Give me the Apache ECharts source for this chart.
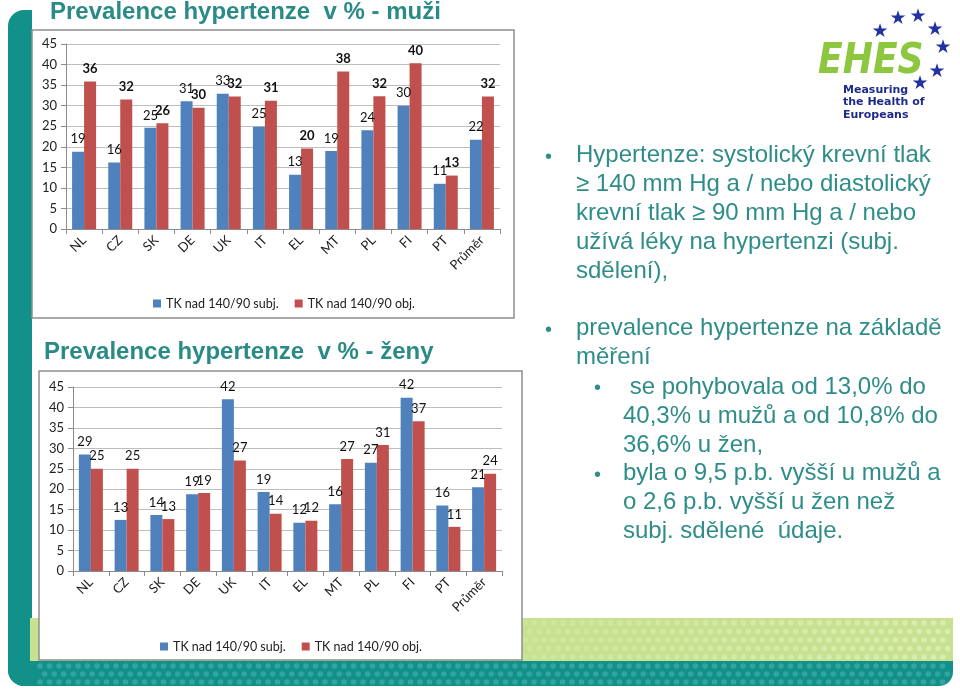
<!DOCTYPE html>
<html>
<head>
<meta charset="utf-8">
<script src="https://cdn.jsdelivr.net/npm/echarts@6/dist/echarts.min.js"></script>
<style>
  html, body { margin: 0; padding: 0; background: #fff; }
  #main { width: 960px; height: 693px; }
</style>
</head>
<body>
<div id="main"></div>
<script>
// categories and values
const categories = ['NL', 'CZ', 'SK', 'DE', 'UK', 'IT', 'EL', 'MT', 'PL', 'FI', 'PT', 'Průměr'];
const menSubj = [18.8, 16.2, 24.6, 31.1, 32.9, 24.9, 13.2, 19.0, 24.0, 30.0, 11.0, 21.7];
const menObj = [35.9, 31.5, 25.7, 29.5, 32.2, 31.2, 19.6, 38.3, 32.3, 40.3, 13.0, 32.2];
const womenSubj = [28.5, 12.5, 13.7, 18.8, 42.0, 19.3, 11.8, 16.3, 26.5, 42.4, 16.0, 20.5];
const womenObj = [25.0, 25.0, 12.7, 19.1, 27.0, 14.0, 12.3, 27.4, 30.8, 36.6, 10.8, 23.8];
const seriesNames = ['TK nad 140/90 subj.', 'TK nad 140/90 obj.'];
const yMax = 45;
const yStep = 5;

const teal = '#12908A';
const textTeal = '#2F8D89';
const blue = '#4F81BD';
const red = '#C0504D';
const labelFont = 'Lato, "Open Sans", sans-serif';

const bulletText1 = [
  'Hypertenze: systolický krevní tlak',
  '≥ 140 mm Hg a / nebo diastolický',
  'krevní tlak ≥ 90 mm Hg a / nebo',
  'užívá léky na hypertenzi (subj.',
  'sdělení),'
];
const bulletText2 = ['prevalence hypertenze na základě', 'měření'];
const subText1 = [' se pohybovala od 13,0% do', '40,3% u mužů a od 10,8% do', '36,6% u žen,'];
const subText2 = ['byla o 9,5 p.b. vyšší u mužů a', 'o 2,6 p.b. vyšší u žen než', 'subj. sdělené  údaje.'];

const chart = echarts.init(document.getElementById('main'), null, { renderer: 'canvas' });

function xAxisFor(gridIndex) {
  return {
    type: 'category', gridIndex, data: categories,
    axisLine: { lineStyle: { color: '#8C8C8C' } },
    axisTick: { show: true, length: 5, lineStyle: { color: '#8C8C8C' } },
    axisLabel: { rotate: 45, interval: 0, color: '#222', fontSize: 13, fontFamily: labelFont, margin: 9 }
  };
}
function yAxisFor(gridIndex) {
  return {
    type: 'value', gridIndex, min: 0, max: yMax, interval: yStep,
    axisLine: { show: true, lineStyle: { color: '#8C8C8C' } },
    axisTick: { show: true, length: 5, lineStyle: { color: '#8C8C8C' } },
    splitLine: { lineStyle: { color: '#BDBDBD' } },
    axisLabel: { color: '#222', fontSize: 13, fontFamily: labelFont, margin: 9 }
  };
}
function barSeries(name, data, idx, color, bold) {
  return {
    type: 'bar', name, data, xAxisIndex: idx, yAxisIndex: idx,
    barWidth: 12, barGap: '0%',
    itemStyle: { color },
    label: {
      show: true, position: 'top', distance: 6,
      color: '#111', fontSize: 13, fontFamily: labelFont,
      fontWeight: bold ? 'bold' : 'normal',
      formatter: p => Math.round(p.value)
    }
  };
}

// slide decorations
const deco = [];
deco.push({ type: 'rect', z: -20, shape: { x: 8, y: 10, width: 24, height: 676, r: [16, 0, 0, 16] }, style: { fill: teal } });
deco.push({ type: 'rect', z: -20, shape: { x: 30, y: 618, width: 923, height: 44 }, style: { fill: '#C7E190' } });
deco.push({ type: 'rect', z: -20, shape: { x: 8, y: 661, width: 945, height: 25, r: [0, 0, 14, 16] }, style: { fill: teal } });
for (let row = 0; row < 5; row++) {
  for (let col = 0; col < 45; col++) {
    const cx = 525 + col * 9.5 + (row % 2) * 4.7;
    if (cx > 950) continue;
    deco.push({ type: 'circle', z: -19, shape: { cx, cy: 623 + row * 8.5, r: 2.8 }, style: { fill: '#DDEFB6', opacity: 0.35 + col / 90 } });
  }
}
for (let row = 0; row < 3; row++) {
  for (let col = 0; col < 100; col++) {
    const cx = 40 + col * 9.5 + (row % 2) * 4.7;
    if (cx > 948) continue;
    deco.push({ type: 'circle', z: -19, shape: { cx, cy: 666 + row * 8, r: 2.8 }, style: { fill: '#4FB6AE', opacity: 0.55 } });
  }
}
// chart frames
deco.push({ type: 'rect', z: -15, shape: { x: 32, y: 30, width: 482, height: 288 }, style: { fill: '#fff', stroke: '#8F8F8F', lineWidth: 1.5 } });
deco.push({ type: 'rect', z: -15, shape: { x: 39, y: 371, width: 483, height: 289 }, style: { fill: '#fff', stroke: '#8F8F8F', lineWidth: 1.5 } });

// titles
deco.push({ type: 'text', z: 10, x: 50, y: 12, style: { text: 'Prevalence hypertenze  v % - muži', fill: '#2A8B86', font: 'bold 24px "Liberation Sans", Arial, sans-serif', textVerticalAlign: 'middle' } });
deco.push({ type: 'text', z: 10, x: 44, y: 352, style: { text: 'Prevalence hypertenze  v % - ženy', fill: '#2A8B86', font: 'bold 24px "Liberation Sans", Arial, sans-serif', textVerticalAlign: 'middle' } });

// right-hand text
const bodyFont = '24px "Liberation Sans", Arial, sans-serif';
function addLines(lines, x, y0, step) {
  lines.forEach((t, i) => {
    deco.push({ type: 'text', z: 10, x, y: y0 + i * step, style: { text: t, fill: textTeal, font: bodyFont, textVerticalAlign: 'middle' } });
  });
}
function addBullet(x, y) {
  deco.push({ type: 'text', z: 10, x, y, style: { text: '•', fill: textTeal, font: '20px "Liberation Sans", Arial, sans-serif', textVerticalAlign: 'middle' } });
}
addBullet(545, 157); addLines(bulletText1, 576, 155, 29);
addBullet(545, 330); addLines(bulletText2, 576, 328, 29);
addBullet(594, 388); addLines(subText1, 623, 387, 29);
addBullet(594, 475); addLines(subText2, 623, 473, 29);

// EHES logo
deco.push({ type: 'text', z: 10, x: 818, y: 62, scaleX: 0.86, scaleY: 1, originX: 0, originY: 0, style: { text: 'EHES', fill: '#8DC63F', font: 'italic bold 42px "DejaVu Sans", sans-serif', textVerticalAlign: 'middle' } });
[[880, 32], [898, 19], [918, 17], [935, 30], [943, 48], [937, 72], [920, 84]].forEach(([sx, sy]) => {
  deco.push({ type: 'text', z: 11, x: sx, y: sy, style: { text: '★', fill: '#2233A0', font: '19px "DejaVu Sans", sans-serif', textAlign: 'center', textVerticalAlign: 'middle' } });
});
['Measuring', 'the Health of', 'Europeans'].forEach((t, i) => {
  deco.push({ type: 'text', z: 10, x: 843, y: 90 + i * 12.5, style: { text: t, fill: '#1E2A8A', font: 'bold 11px "DejaVu Sans", sans-serif', textVerticalAlign: 'middle' } });
});

const option = {
  backgroundColor: '#fff',
  animation: false,
  graphic: { elements: deco },
  legend: [
    { left: 148, top: 292, itemWidth: 8, itemHeight: 8, itemGap: 16, icon: 'rect', data: seriesNames,
      textStyle: { fontSize: 12.5, fontFamily: labelFont, color: '#222' } },
    { left: 155, top: 635, itemWidth: 8, itemHeight: 8, itemGap: 16, icon: 'rect', data: seriesNames,
      textStyle: { fontSize: 12.5, fontFamily: labelFont, color: '#222' } }
  ],
  grid: [
    { left: 66, right: 460, top: 44, height: 185 },
    { left: 73, right: 458, top: 387, height: 184 }
  ],
  xAxis: [xAxisFor(0), xAxisFor(1)],
  yAxis: [yAxisFor(0), yAxisFor(1)],
  series: [
    barSeries(seriesNames[0], menSubj, 0, blue, false),
    barSeries(seriesNames[1], menObj, 0, red, true),
    barSeries(seriesNames[0], womenSubj, 1, blue, false),
    barSeries(seriesNames[1], womenObj, 1, red, false)
  ]
};

chart.setOption(option);
</script>
</body>
</html>
